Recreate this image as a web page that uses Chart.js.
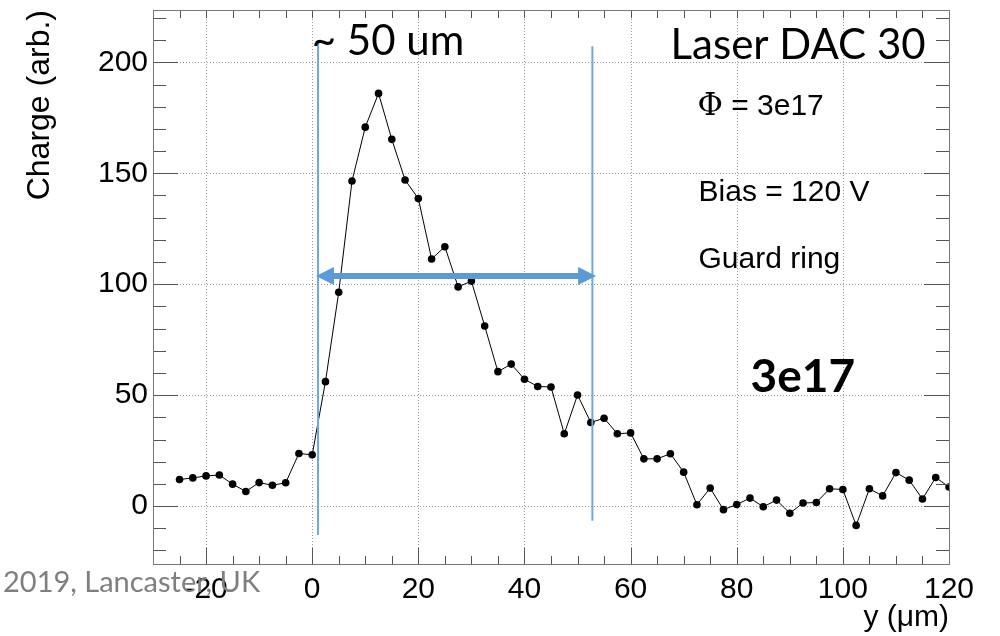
<!DOCTYPE html>
<html>
<head>
<meta charset="utf-8">
<script src="https://cdn.jsdelivr.net/npm/chart.js@4/dist/chart.umd.min.js"></script>
<style>
  html, body { margin: 0; padding: 0; background: #fff; }
  #wrap { width: 1000px; height: 636px; position: relative; }
</style>
</head>
<body>
<div id="wrap"><canvas id="chart-charge-profile"></canvas></div>
<script>
// Perfil de carga vs posicion y (Laser DAC 30, 3e17)

// posiciones (um)
const posY = [-25, -22.5, -20, -17.5, -15, -12.5, -10, -7.5, -5, -2.5, 0,
    2.5, 5, 7.5, 10, 12.5, 15, 17.5, 20, 22.5, 25,
    27.5, 30, 32.5, 35, 37.5, 40, 42.5, 45, 47.5, 50,
    52.5, 55, 57.5, 60, 62.5, 65, 67.5, 70, 72.5, 75,
    77.5, 80, 82.5, 85, 87.5, 90, 92.5, 95, 97.5, 100,
    102.5, 105, 107.5, 110, 112.5, 115, 117.5, 120];

// carga (arb.)
const charge = [12.0, 12.7, 13.6, 14.0, 9.9, 6.6, 10.6, 9.4, 10.5, 23.7, 23.1,
    56.1, 96.4, 146.5, 170.8, 186.0, 165.3, 147.0, 138.6, 111.4, 116.9,
    98.8, 101.4, 81.2, 60.6, 64.0, 57.2, 53.9, 53.7, 32.6, 50.1,
    37.7, 39.6, 32.6, 33.0, 21.3, 21.3, 23.6, 15.3, 0.6, 8.1,
    -1.6, 0.7, 3.6, -0.3, 2.7, -3.2, 1.4, 1.6, 7.8, 7.5,
    -8.7, 7.8, 4.6, 15.1, 11.7, 3.2, 12.9, 8.6];

// etiquetas de los ejes
const xTickVals = [-20, 0, 20, 40, 60, 80, 100, 120];
const yTickVals = [0, 50, 100, 150, 200];

// rangos de ejes
const xMin = -30, xMax = 120, xMajor = 20, xMinor = 5;
const yMin = -26.1, yMax = 223.6, yMajor = 50, yMinor = 10;

// anotaciones (en coordenadas de datos)
const markerX = [1.1, 52.8];
const markerYTop = [210, 207.3];
const markerYBottom = [-13, -6.6];
const arrowY = 103.7, arrowX0 = 0.7, arrowX1 = 53.5;

const pts = posY.map((x, i) => ({ x: x, y: charge[i] }));

const axisFont = { family: 'Liberation Sans', size: 30 };

// plugin para marco, ticks internos, rejilla punteada y anotaciones
const rootFramePlugin = {
    id: 'rootFrame',
    beforeDatasetsDraw(chart) {
        const { ctx, chartArea: a, scales: { x, y } } = chart;
        ctx.save();
        ctx.strokeStyle = '#9a9a9a';
        ctx.lineWidth = 1;
        ctx.setLineDash([1, 2]);
        xTickVals.filter(v => v < xMax).forEach(v => {
            const px = Math.round(x.getPixelForValue(v)) + 0.5;
            ctx.beginPath(); ctx.moveTo(px, a.top); ctx.lineTo(px, a.bottom); ctx.stroke();
        });
        yTickVals.forEach(v => {
            const py = Math.round(y.getPixelForValue(v)) + 0.5;
            ctx.beginPath(); ctx.moveTo(a.left, py); ctx.lineTo(a.right, py); ctx.stroke();
        });
        ctx.restore();
    },
    afterDatasetsDraw(chart) {
        const { ctx, chartArea: a, scales: { x, y } } = chart;
        ctx.save();
        ctx.strokeStyle = '#555';
        ctx.lineWidth = 1;
        ctx.setLineDash([]);
        // ticks eje x
        for (let v = Math.ceil(xMin / xMinor) * xMinor; v <= xMax; v += xMinor) {
            const px = Math.round(x.getPixelForValue(v)) + 0.5;
            const major = v % xMajor === 0;
            ctx.beginPath();
            ctx.moveTo(px, a.bottom); ctx.lineTo(px, a.bottom - (major ? 16 : 8));
            ctx.moveTo(px, a.top); ctx.lineTo(px, a.top + 8);
            ctx.stroke();
        }
        // ticks eje y
        for (let v = Math.ceil(yMin / yMinor) * yMinor; v <= yMax; v += yMinor) {
            const py = Math.round(y.getPixelForValue(v)) + 0.5;
            const len = v % yMajor === 0 ? 25 : 13;
            ctx.beginPath();
            ctx.moveTo(a.left, py); ctx.lineTo(a.left + len, py);
            ctx.moveTo(a.right, py); ctx.lineTo(a.right - len, py);
            ctx.stroke();
        }
        ctx.strokeStyle = '#777';
        ctx.strokeRect(Math.round(a.left) + 0.5, Math.round(a.top) + 0.5,
            Math.round(a.right - a.left), Math.round(a.bottom - a.top));
        ctx.restore();
    },
    afterDraw(chart) {
        const { ctx, scales: { x, y } } = chart;
        ctx.save();

        // textos de ROOT
        ctx.fillStyle = '#000';
        ctx.textAlign = 'left';
        ctx.textBaseline = 'alphabetic';
        ctx.font = '31px "DejaVu Serif"';
        const phiX = x.getPixelForValue(72.6), phiY = y.getPixelForValue(176.3);
        ctx.fillText('\u03A6', phiX, phiY);
        const phiW = ctx.measureText('\u03A6').width;
        ctx.font = '30px "Liberation Sans"';
        ctx.fillText(' = 3e17', phiX + phiW, phiY);
        ctx.fillText('Bias = 120 V', x.getPixelForValue(72.8), y.getPixelForValue(137.4));
        ctx.fillText('Guard ring', x.getPixelForValue(72.8), y.getPixelForValue(107.3));

        // lineas azules
        ctx.strokeStyle = '#6fa8dc';
        ctx.lineWidth = 2;
        markerX.forEach((mx, i) => {
            const px = x.getPixelForValue(mx);
            ctx.beginPath();
            ctx.moveTo(px, y.getPixelForValue(markerYTop[i]));
            ctx.lineTo(px, y.getPixelForValue(markerYBottom[i]));
            ctx.stroke();
        });

        // flecha doble
        const ay = y.getPixelForValue(arrowY);
        const ax0 = x.getPixelForValue(arrowX0), ax1 = x.getPixelForValue(arrowX1);
        const head = 18, half = 9;
        ctx.strokeStyle = '#5b9bd5';
        ctx.fillStyle = '#5b9bd5';
        ctx.lineWidth = 6;
        ctx.beginPath(); ctx.moveTo(ax0 + head - 2, ay); ctx.lineTo(ax1 - head + 2, ay); ctx.stroke();
        ctx.beginPath();
        ctx.moveTo(ax0, ay); ctx.lineTo(ax0 + head, ay - half); ctx.lineTo(ax0 + head, ay + half); ctx.closePath();
        ctx.fill();
        ctx.beginPath();
        ctx.moveTo(ax1, ay); ctx.lineTo(ax1 - head, ay - half); ctx.lineTo(ax1 - head, ay + half); ctx.closePath();
        ctx.fill();

        // textos de la diapositiva
        ctx.fillStyle = '#000';
        ctx.font = '42px Lato';
        ctx.textAlign = 'left';
        ctx.fillText('~ 50 um', x.getPixelForValue(-0.1), y.getPixelForValue(203.3));
        ctx.textAlign = 'right';
        ctx.fillText('Laser DAC 30', x.getPixelForValue(115.6), y.getPixelForValue(201.5));
        ctx.textAlign = 'left';
        ctx.font = 'bold 46px Lato';
        ctx.fillText('3e17', x.getPixelForValue(82.6), y.getPixelForValue(51.2));

        ctx.font = '29px Lato';
        ctx.fillStyle = '#7f7f7f';
        ctx.fillText('2019, Lancaster, UK', 3, 592);
        ctx.restore();
    }
};

const canvas = document.getElementById('chart-charge-profile');
const chart = new Chart(canvas.getContext('2d'), {
    type: 'line',
    data: {
        datasets: [{
            data: pts,
            borderColor: '#000',
            borderWidth: 1,
            backgroundColor: '#000',
            pointRadius: 3.8,
            pointBorderWidth: 0,
            pointBackgroundColor: '#000',
            tension: 0
        }]
    },
    options: {
        responsive: true,
        maintainAspectRatio: false,
        animation: false,
        layout: { padding: { left: 0, right: 51, top: 10, bottom: 0 } },
        plugins: {
            legend: { display: false },
            tooltip: { enabled: false }
        },
        scales: {
            x: {
                type: 'linear',
                min: xMin,
                max: xMax,
                grid: { display: false, drawTicks: false },
                border: { display: false },
                afterBuildTicks: s => { s.ticks = xTickVals.map(v => ({ value: v })); },
                ticks: {
                    maxRotation: 0,
                    autoSkip: false,
                    color: '#000',
                    font: axisFont,
                    padding: 8,
                    callback: v => v
                },
                title: {
                    display: true,
                    text: 'y (\u03BCm)',
                    align: 'end',
                    color: '#000',
                    font: { family: 'Liberation Sans', size: 30 },
                    padding: { top: 0, bottom: 0 }
                },
                afterFit: s => {
                    s.height = 72;
                    s.paddingLeft = 0;
                    s.paddingRight = 0;
                }
            },
            y: {
                min: yMin,
                max: yMax,
                grid: { display: false, drawTicks: false },
                border: { display: false },
                afterBuildTicks: s => { s.ticks = yTickVals.map(v => ({ value: v })); },
                ticks: {
                    autoSkip: false,
                    color: '#000',
                    font: axisFont,
                    padding: 5,
                    callback: v => v
                },
                title: {
                    display: true,
                    text: 'Charge (arb.)',
                    align: 'end',
                    color: '#000',
                    font: { family: 'Liberation Sans', size: 32 },
                    padding: { top: 21, bottom: 0 }
                },
                afterFit: s => {
                    s.width = 153;
                    s.paddingTop = 0;
                    s.paddingBottom = 0;
                }
            }
        }
    },
    plugins: [rootFramePlugin]
});
</script>
</body>
</html>
